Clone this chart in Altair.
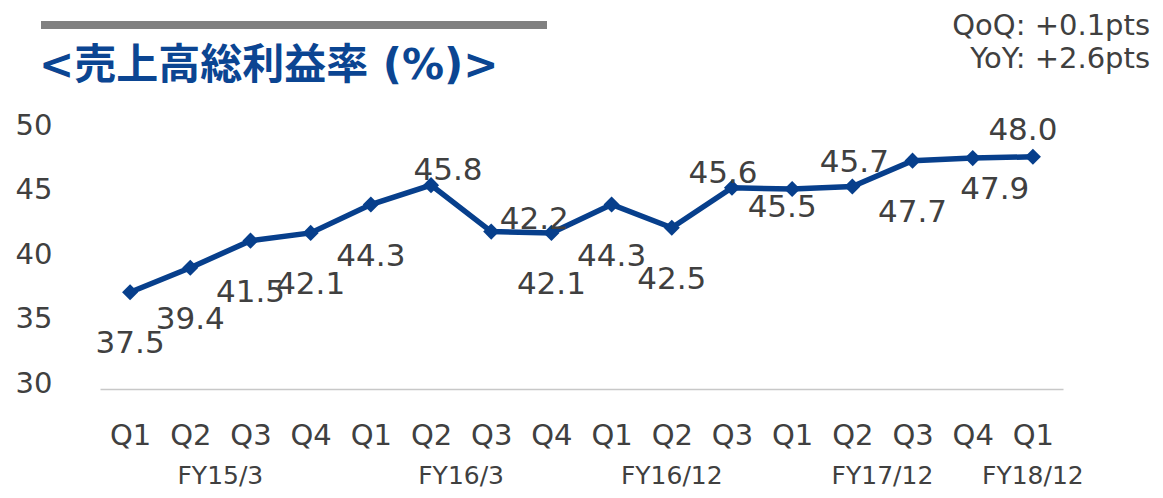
import altair as alt
import pandas as pd

quarters = ["Q1", "Q2", "Q3", "Q4", "Q1", "Q2", "Q3", "Q4", "Q1", "Q2", "Q3", "Q1", "Q2", "Q3", "Q4", "Q1"]
fiscal_years = ["FY15/3"] * 4 + ["FY16/3"] * 4 + ["FY16/12"] * 3 + ["FY17/12"] * 4 + ["FY18/12"]
margins = [37.5, 39.4, 41.5, 42.1, 44.3, 45.8, 42.2, 42.1, 44.3, 42.5, 45.6, 45.5, 45.7, 47.7, 47.9, 48.0]
label_place = ["below", "below", "below", "below", "below", "aboveright", "rightup", "below",
               "below", "below", "aboveleft", "belowleft", "above", "below", "rightdown", "aboveleft2"]
y_ticks = [30, 35, 40, 45, 50]
title_text = "<売上高総利益率 (%)>"
note_text = "QoQ: +0.1pts\nYoY: +2.6pts"

df = pd.DataFrame({
    "idx": list(range(len(margins))),
    "q": quarters,
    "fy": fiscal_years,
    "v": margins,
    "place": label_place,
})
fy_df = df.groupby("fy", sort=False)["idx"].mean().reset_index()

BLUE = "#073f8c"
GRAY = "#404040"
FONT = "DejaVu Sans"

# label offsets (style): placement -> (dx, dy) in pixels
OFFSETS = {
    "below": (0, 52),
    "aboveright": (17, -14),
    "rightup": (43, -12),
    "aboveleft": (-9, -14),
    "belowleft": (-10, 19),
    "above": (2, -23),
    "rightdown": (22, 32),
    "aboveleft2": (-10, -26),
}

q_expr = "[" + ",".join(f"'{q}'" for q in quarters) + "][datum.value]"

x_enc = alt.X("idx:Q", scale=alt.Scale(domain=[-0.5, len(margins) - 0.5], nice=False, zero=False),
              axis=alt.Axis(values=list(range(len(margins))), labelExpr=q_expr, title=None,
                            grid=False, ticks=False, domain=True, domainColor="#c8c8c8",
                            domainWidth=1.5, labelFont=FONT, labelFontSize=29, labelColor=GRAY,
                            labelPadding=46, labelBaseline="middle", labelFlush=False,
                            labelOverlap=False))
y_enc = alt.Y("v:Q", scale=alt.Scale(domain=[30, 50], nice=False, zero=False),
              axis=alt.Axis(values=y_ticks, title=None, grid=False, ticks=False, domain=False,
                            labelFont=FONT, labelFontSize=29, labelColor=GRAY,
                            labelPadding=48, labelOffset=-6))

base = alt.Chart(df)
line = base.mark_line(color=BLUE, strokeWidth=5.5).encode(x=x_enc, y=y_enc)
pts = base.mark_point(shape="diamond", filled=True, size=260, color=BLUE, opacity=1).encode(
    x="idx:Q", y="v:Q")


def lab(place, dx, dy):
    return base.transform_filter(alt.datum.place == place).mark_text(
        font=FONT, fontSize=31, color=GRAY, baseline="middle", align="center", dx=dx, dy=dy
    ).encode(x="idx:Q", y="v:Q", text=alt.Text("v:Q", format=".1f"))


labels = [lab(p, dx, dy) for p, (dx, dy) in OFFSETS.items()]

fy_text = alt.Chart(fy_df).mark_text(font=FONT, fontSize=25, color=GRAY, baseline="middle").encode(
    x="idx:Q", y=alt.value(345), text="fy:N")

bar = alt.Chart(pd.DataFrame({"k": [0]})).mark_rule(color="#808080", strokeWidth=8).encode(
    x=alt.value(-59), x2=alt.value(447), y=alt.value(-106))
title = alt.Chart(pd.DataFrame({"t": [title_text]})).mark_text(
    font="DejaVu Sans, Noto Sans CJK JP", fontWeight="bold", fontSize=42, color="#0b4592",
    align="left", baseline="middle").encode(x=alt.value(-61), y=alt.value(-65), text="t:N")
note = alt.Chart(pd.DataFrame({"t": [note_text]})).mark_text(
    font=FONT, fontSize=29, color=GRAY, align="right", baseline="alphabetic",
    lineBreak="\n", lineHeight=33).encode(x=alt.value(1050), y=alt.value(-96), text="t:N")

chart = alt.layer(line, pts, *labels, fy_text, bar, title, note).properties(
    width=963, height=258,
    autosize=alt.AutoSizeParams(type="none"),
    padding={"left": 92, "top": 123, "right": 92, "bottom": 101},
).configure_view(stroke=None)

chart.save("out.html", embed_options={"renderer": "svg", "actions": False})
